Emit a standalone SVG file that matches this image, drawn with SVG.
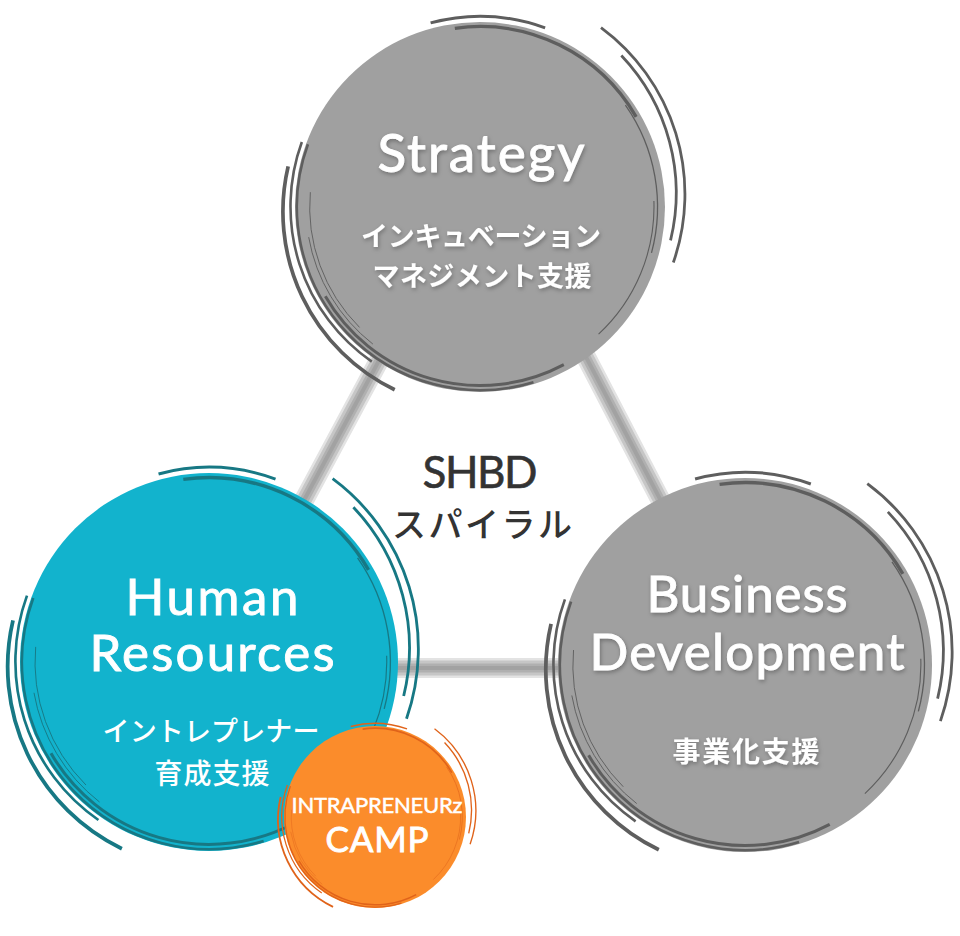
<svg xmlns="http://www.w3.org/2000/svg" xmlns:xlink="http://www.w3.org/1999/xlink" width="960" height="936" viewBox="0 0 960 936">
<style>
.title{font-family:"Lato","Liberation Sans",sans-serif;font-weight:400;fill:#ffffff;stroke:#ffffff;stroke-width:0.9;text-anchor:middle}
.jp{font-family:"Noto Sans CJK JP","Noto Sans",sans-serif;fill:#ffffff;text-anchor:middle}
.shadow{filter:url(#ts)}
.gray{fill:#a0a0a0}
.teal{fill:#12b3cd}
.orange{fill:#fb8c2b}
.deco{fill:none;stroke:currentColor;stroke-linecap:butt}
.center{font-family:"Lato","Liberation Sans",sans-serif;fill:#333333;stroke:#333333;stroke-width:0.6;text-anchor:middle}
.centerjp{font-family:"Noto Sans CJK JP","Noto Sans",sans-serif;fill:#333333;text-anchor:middle}
</style>
<defs>
<filter id="ts" x="-20%" y="-40%" width="140%" height="180%">
<feDropShadow dx="1" dy="2" stdDeviation="2" flood-color="#000000" flood-opacity="0.3"/>
</filter>
<g id="decor" class="deco">
<path d="M-26.7,-99.5 A103,103 0 0 1 35.2,-96.8" stroke-width="1.6"/>
<path d="M-13.6,-96.6 A97.5,97.5 0 0 1 84.4,-48.75" stroke-width="1.8"/>
<path d="M78.6,-55.1 A96,96 0 0 1 92.7,24.8" stroke-width="0.7"/>
<path d="M65.4,-97 A112,112 0 0 1 104.5,30" stroke-width="1.5"/>
<path d="M76.4,-81.9 A108,108 0 0 1 103,18" stroke-width="1.5"/>
<path d="M-103.7,-22 A107,107 0 0 0 -46.1,98.8" stroke-width="2"/>
<path d="M-96.3,-35.1 A102,102 0 0 0 -58.5,83.6" stroke-width="1.4"/>
<path d="M-93,-33.9 A99,99 0 0 0 28.9,94.7" stroke-width="1.4"/>
<path d="M-83.6,48.25 A96.5,96.5 0 0 0 45.3,85.2" stroke-width="1.6"/>
<path d="M-91.7,-8 A92,92 0 0 0 -65.1,65.1" stroke-width="0.5"/>
<path d="M-92.6,16.3 A94,94 0 0 0 -57.9,74.1" stroke-width="0.5"/>
<path d="M94,-3.3 A94,94 0 0 1 64.1,68.75" stroke-width="0.6"/>
</g>
</defs>

<g id="connectors">
<g stroke-linecap="butt" fill="none">
<path d="M485,163 L214,668 M485,163 L748,668 M214,668 L748,668" stroke="#e3e3e3" stroke-width="20"/>
<path d="M485,163 L214,668 M485,163 L748,668 M214,668 L748,668" stroke="#c6c6c6" stroke-width="15"/>
<path d="M485,163 L214,668 M485,163 L748,668 M214,668 L748,668" stroke="#b0b0b0" stroke-width="9"/>
<path d="M485,163 L214,668 M485,163 L748,668 M214,668 L748,668" stroke="#a2a2a2" stroke-width="4"/>
</g>
</g>

<g id="strategy">
<circle class="gray" cx="480" cy="207" r="185"/>
<use href="#decor" xlink:href="#decor" transform="translate(480,207) scale(1.85)" style="color:#5e5e5e"/>
<g class="shadow">
<text class="title" x="481" y="172" font-size="53" textLength="207">Strategy</text>
<text class="jp" x="481" y="246" font-size="27" font-weight="700" textLength="240">インキュベーション</text>
<text class="jp" x="482" y="286" font-size="27" font-weight="700" textLength="219">マネジメント支援</text>
</g>
</g>

<g id="business-development">
<circle class="gray" cx="745" cy="665" r="187"/>
<use href="#decor" xlink:href="#decor" transform="translate(745,665) scale(1.87)" style="color:#5e5e5e"/>
<g class="shadow">
<text class="title" x="747" y="612" font-size="51" textLength="201">Business</text>
<text class="title" x="747" y="670" font-size="51" textLength="315">Development</text>
<text class="jp" x="746" y="762" font-size="28" font-weight="700" textLength="147">事業化支援</text>
</g>
</g>

<g id="human-resources">
<circle class="teal" cx="209" cy="662" r="189"/>
<use href="#decor" xlink:href="#decor" transform="translate(209,662) scale(1.89)" style="color:#177884"/>
<text class="title" x="212" y="615" font-size="51" textLength="173">Human</text>
<text class="title" x="212" y="671" font-size="51" textLength="245">Resources</text>
<text class="jp" x="211" y="741" font-size="27" font-weight="500" textLength="217">イントレプレナー</text>
<text class="jp" x="212" y="784" font-size="28" font-weight="500" textLength="115">育成支援</text>
</g>

<g id="shbd-spiral">
<text class="center" x="480" y="488" font-size="44" textLength="115">SHBD</text>
<text class="centerjp" x="482" y="537" font-size="34" font-weight="500" textLength="180">スパイラル</text>
</g>

<g id="intrapreneurz-camp">
<circle class="orange" cx="375" cy="817" r="91"/>
<use href="#decor" xlink:href="#decor" transform="translate(375,817) scale(0.91)" style="color:#e0631a"/>
<text class="title" x="377" y="813" font-size="22" textLength="171" style="stroke-width:0.5">INTRAPRENEURz</text>
<text class="title" x="377" y="852" font-size="35" textLength="103">CAMP</text>
</g>
</svg>
